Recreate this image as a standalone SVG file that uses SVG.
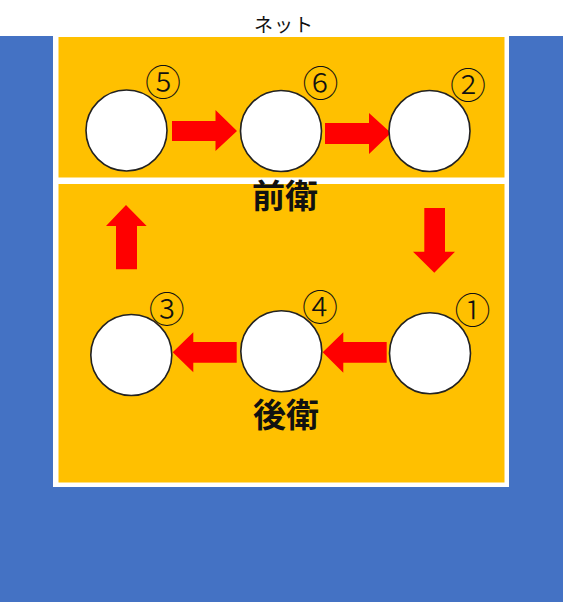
<svg xmlns="http://www.w3.org/2000/svg" width="563" height="602" viewBox="0 0 563 602">
<style>
.blue{fill:#4472C4}
.court{fill:#FFC000}
.border{fill:#FFFFFF}
.player{fill:#FFFFFF;stroke:#222222;stroke-width:1.6}
.arrow{fill:#FF0000}
.num{font-family:"Noto Sans CJK JP","Noto Sans",sans-serif;font-size:36px;font-weight:300;fill:#111111;text-anchor:middle;dominant-baseline:central}
.zone{font-family:"Noto Sans CJK JP",sans-serif;font-size:33px;font-weight:bold;fill:#111111;text-anchor:middle}
.net{font-family:"Noto Sans CJK JP",sans-serif;font-size:19px;fill:#111111;text-anchor:middle;letter-spacing:1px}
</style>
<rect x="0" y="0" width="563" height="602" fill="#FFFFFF"/>
<rect class="blue" x="0" y="36" width="563" height="566"/>
<rect class="border" x="53" y="36" width="456" height="451"/>
<rect class="court" x="58.5" y="37" width="446" height="140.5"/>
<rect class="court" x="58.5" y="184" width="446" height="298.5"/>
<text class="net" x="284" y="32">ネット</text>
<g id="connectors">
<polygon class="arrow" points="172,121 215.5,121 215.5,110 237,131 215.5,151 215.5,141 172,141"/>
<polygon class="arrow" points="325,123 369,123 369,113 391,133 369,154 369,144 325,144"/>
<polygon class="arrow" points="424.3,208 445,208 445,251.7 455,251.7 434.3,272.7 413,251.7 424.3,251.7"/>
<polygon class="arrow" points="386.7,342 343.3,342 343.3,332.3 322.7,352.3 343.3,372.7 343.3,362.7 386.7,362.7"/>
<polygon class="arrow" points="236.7,342 193.3,342 193.3,332.3 172.7,352.3 193.3,372.3 193.3,362.7 236.7,362.7"/>
<polygon class="arrow" points="116,269.3 137,269.3 137,226 146.7,226 126,205 106,226 116,226"/>
</g>
<g id="p5"><circle class="player" cx="126.5" cy="130.5" r="40.5"/><text class="num" x="163" y="80">⑤</text></g>
<g id="p6"><circle class="player" cx="281" cy="131" r="40.5"/><text class="num" x="320.5" y="81">⑥</text></g>
<g id="p2"><circle class="player" cx="429.5" cy="131" r="40.5"/><text class="num" x="468" y="83">②</text></g>
<g id="p3"><circle class="player" cx="131.3" cy="355" r="40.5"/><text class="num" x="166.7" y="306.5">③</text></g>
<g id="p4"><circle class="player" cx="281.3" cy="351.3" r="40.5"/><text class="num" x="320" y="304.7">④</text></g>
<g id="p1"><circle class="player" cx="430" cy="353.3" r="40.5"/><text class="num" x="472.5" y="308">①</text></g>
<text class="zone" x="285" y="208">前衛</text>
<text class="zone" x="286" y="427">後衛</text>
</svg>
